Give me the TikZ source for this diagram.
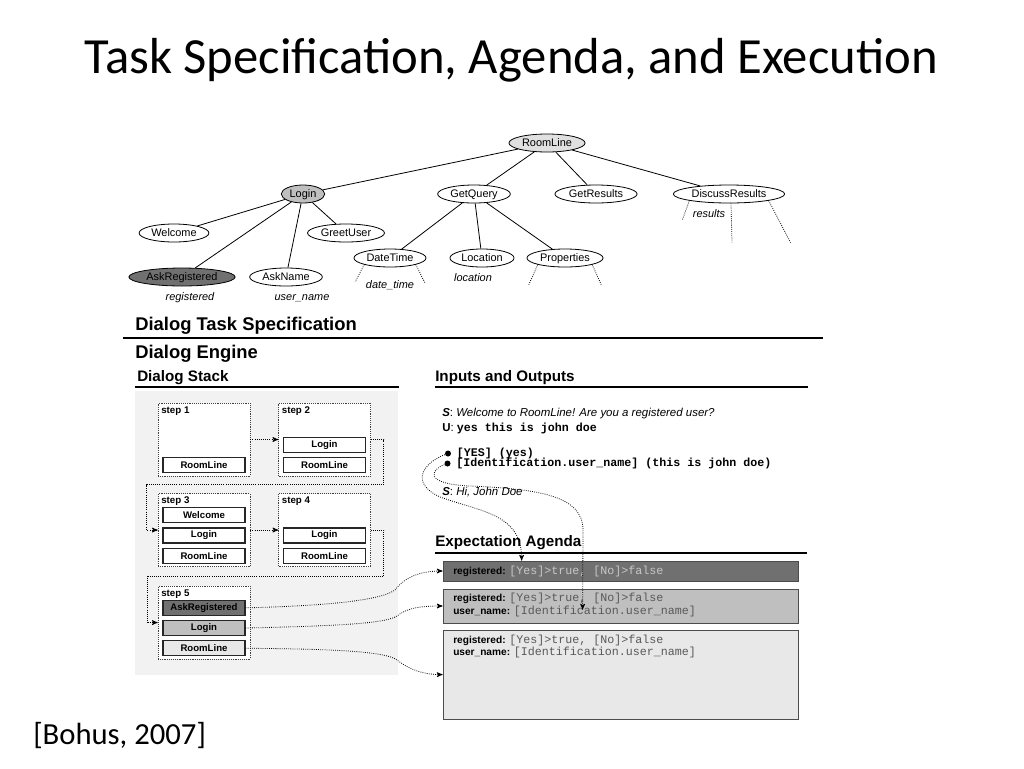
\documentclass[tikz,border=0pt]{standalone}
\usepackage{fontspec}
\setmainfont{Carlito}
\setsansfont{Liberation Sans}
\setmonofont{Liberation Mono}
\usetikzlibrary{shapes.geometric}
\usetikzlibrary{positioning}
\usetikzlibrary{arrows}
\definecolor{rootfill}{gray}{0.88}
\definecolor{midfill}{gray}{0.75}
\definecolor{darkfill}{gray}{0.44}
\definecolor{lightfill}{gray}{0.91}
\definecolor{stackbg}{gray}{0.95}
\newcommand{\slotval}[2][black!65]{{\ttfamily\mdseries\fontsize{8.75}{9.5}\selectfont\color{#1}#2}}
\newcommand{\iomono}[1]{{\ttfamily\bfseries\fontsize{8.75}{9.5}\selectfont #1}}
\tikzset{
    task/.style={
        ellipse, draw, semithick, fill=white,
        inner xsep=1.5pt, inner ysep=0pt, minimum height=13.5pt,
        text height=6.2pt, text depth=1.7pt,
        font=\sffamily\fontsize{8.2}{9}\selectfont},
    slot/.style={font=\sffamily\itshape\fontsize{8.2}{9}\selectfont},
    stub/.style={densely dotted, semithick},
    stepbox/.style={
        draw=black!75, densely dotted, fill=white,
        minimum width=69pt, minimum height=54.75pt, inner sep=0pt},
    steplabel/.style={anchor=north west, inner sep=2.5pt,
        font=\sffamily\bfseries\fontsize{7.3}{8}\selectfont},
    frame/.style={
        draw=black!85, line width=0.9pt, fill=white,
        minimum width=61.5pt, minimum height=11.25pt, inner sep=0pt,
        font=\sffamily\bfseries\fontsize{7.2}{8}\selectfont},
    heading/.style={anchor=base west, inner sep=0pt,
        font=\sffamily\bfseries\fontsize{13.8}{15}\selectfont},
    subheading/.style={anchor=base west, inner sep=0pt,
        font=\sffamily\bfseries\fontsize{11.4}{13}\selectfont},
    iotext/.style={anchor=west, inner sep=0pt,
        font=\sffamily\fontsize{8.6}{10}\selectfont},
    bullet/.style={circle, fill, inner sep=0pt, minimum size=4.5pt},
    bullettext/.style={iotext, text height=5pt, text depth=1pt},
    agbox/.style={draw=black!70, line width=0.6pt,
        minimum width=266.25pt, inner sep=0pt},
    agtext/.style={anchor=west, inner sep=0pt, align=left,
        font=\sffamily\bfseries\fontsize{7.6}{9.5}\selectfont},
    flow/.style={densely dotted, line width=0.6pt, ->, >=stealth'}}

\begin{document}
\begin{tikzpicture}[x=0.75pt,y=-0.75pt]
        \useasboundingbox (0,0) rectangle (1024,768);

        % title and citation
        \node[anchor=base, inner sep=0pt, font=\fontsize{38}{40}\selectfont] (title) at (511,73) {Task Specification, Agenda, and Execution};
        \node[anchor=base west, inner sep=0pt, font=\fontsize{23}{25}\selectfont] (cite) at (33,744) {[Bohus, 2007]};

        % task tree
        \node[task, fill=rootfill] (roomline) at (547,143) {RoomLine};
        \node[task, fill=midfill] (login) at (303,194) {Login};
        \node[task] (getquery) at (474,194) {GetQuery};
        \node[task] (getresults) at (596,194) {GetResults};
        \node[task] (discuss) at (729,194) {DiscussResults};
        \node[task] (welcome) at (174,233) {Welcome};
        \node[task] (greetuser) at (346,233) {GreetUser};
        \node[task, fill=darkfill] (askreg) at (182,277) {AskRegistered};
        \node[task] (askname) at (286,277) {AskName};
        \node[task] (datetime) at (390,258) {DateTime};
        \node[task] (location) at (482,258) {Location};
        \node[task] (properties) at (565,258) {Properties};

        \node[slot] (registered) at (190,298) {registered};
        \node[slot] (username) at (302,298) {user\_name};
        \node[slot] (datetimeslot) at (390,285) {date\_time};
        \node[slot] (locationslot) at (473,278) {location};
        \node[slot] (resultsslot) at (709,214) {results};

        \draw[semithick] (roomline) -- (login);
        \draw[semithick] (roomline) -- (getquery);
        \draw[semithick] (roomline) -- (getresults);
        \draw[semithick] (roomline) -- (discuss);
        \draw[semithick] (login) -- (welcome);
        \draw[semithick] (login) -- (askreg);
        \draw[semithick] (login) -- (askname);
        \draw[semithick] (login) -- (greetuser);
        \draw[semithick] (getquery) -- (datetime);
        \draw[semithick] (getquery) -- (location);
        \draw[semithick] (getquery) -- (properties);

        \draw[stub] (datetime.south west) -- ++(-9,17);
        \draw[stub] (datetime.south east) -- ++(9,18);
        \draw[stub] (properties.south west) -- ++(-9,20);
        \draw[stub] (properties.south east) -- ++(9,20);
        \draw[stub] (discuss.south west) -- ++(-7,19);
        \draw[stub] ([xshift=1.5pt]discuss.south) -- ++(1,39);
        \draw[stub] (discuss.south east) -- ++(22,42);

        % headings
        \node[heading] (taskspec) at (135,330) {Dialog Task Specification};
        \draw[line width=1.5pt] (123,338) -- (823,338);
        \node[heading] (engine) at (135,358) {Dialog Engine};
        \node[subheading] (stackhead) at (137,381) {Dialog Stack};
        \draw[line width=0.8pt] (135,387) -- (399,387);
        \node[subheading] (iohead) at (435,381) {Inputs and Outputs};
        \draw[line width=0.8pt] (435,387) -- (808,387);
        \node[subheading] (aghead) at (435,546) {Expectation Agenda};
        \draw[line width=0.8pt] (435,553) -- (807,553);

        % dialog stack
        \fill[stackbg] (135,391) rectangle (398,675);
        \node[stepbox] (s1) at (204,439.5) {};
        \node[stepbox, right=21pt of s1] (s2) {};
        \node[stepbox, below=12.75pt of s1] (s3) {};
        \node[stepbox, right=21pt of s3] (s4) {};
        \node[stepbox, below=14.25pt of s3] (s5) {};
        \node[steplabel] (s1label) at (s1.north west) {step 1};
        \node[steplabel] (s2label) at (s2.north west) {step 2};
        \node[steplabel] (s3label) at (s3.north west) {step 3};
        \node[steplabel] (s4label) at (s4.north west) {step 4};
        \node[steplabel] (s5label) at (s5.north west) {step 5};

        \node[frame, above=2.25pt of s1.south] (s1room) {RoomLine};
        \node[frame, above=2.25pt of s2.south] (s2room) {RoomLine};
        \node[frame, above=3pt of s2room] (s2login) {Login};
        \node[frame, above=2.25pt of s3.south] (s3room) {RoomLine};
        \node[frame, above=3pt of s3room] (s3login) {Login};
        \node[frame, above=3pt of s3login] (s3welcome) {Welcome};
        \node[frame, above=2.25pt of s4.south] (s4room) {RoomLine};
        \node[frame, above=3pt of s4room] (s4login) {Login};
        \node[frame, fill=lightfill, above=2.25pt of s5.south] (s5room) {RoomLine};
        \node[frame, fill=midfill, above=3pt of s5room] (s5login) {Login};
        \node[frame, fill=darkfill, above=3pt of s5login] (s5ask) {AskRegistered};

        \draw[flow] (s1.east) -- (s2.west);
        \draw[flow] (s2.east) -- ++(13,0) -- ++(0,45) -| ([xshift=-8.25pt]s3.west) -- (s3.west);
        \draw[flow] (s3.east) -- (s4.west);
        \draw[flow] (s4.east) -- ++(13,0) -- ++(0,46) -| ([xshift=-7.5pt]s5.west) -- (s5.west);

        % inputs and outputs
        \node[iotext] (io1) at (442,414) {\textbf{\textit{S}}: \textit{Welcome to RoomLine! Are you a registered user?}};
        \node[iotext] (io2) at (442,428) {\textbf{U}: \iomono{yes this is john doe}};
        \node[bullet] (ioyes) at (448,453.5) {};
        \node[bullettext, right=4pt of ioyes] (ioyestext) {\iomono{[YES] (yes)}};
        \node[bullet] (ioident) at (447.5,463.5) {};
        \node[bullettext, right=4pt of ioident] (ioidenttext) {\iomono{[Identification.user\_name] (this is john doe)}};
        \node[iotext] (io3) at (442,492) {\textbf{\textit{S}}: \textit{Hi, John Doe}};

        % expectation agenda
        \node[agbox, fill=darkfill, minimum height=15pt] (ag1) at (620.5,571) {};
        \node[agbox, fill=midfill, minimum height=25.5pt] (ag2) at (620.5,606) {};
        \node[agbox, fill=lightfill, minimum height=66.75pt] (ag3) at (620.5,674.5) {};
        \node[agtext] (ag1text) at (453,571) {registered: \slotval[black!22]{[Yes]>true, [No]>false}};
        \node[agtext] (ag2text) at (453,605) {registered: \slotval{[Yes]>true, [No]>false}\\user\_name: \slotval{[Identification.user\_name]}};
        \node[agtext] (ag3text) at (453,646.5) {registered: \slotval{[Yes]>true, [No]>false}\\user\_name: \slotval{[Identification.user\_name]}};

        \draw[flow] (ioyes) .. controls (425,462) and (408,482) .. (440,497) .. controls (482,512) and (522,514) .. ([xshift=59.25pt]ag1.north west);
        \draw[flow] (ioident) .. controls (430,470) and (424,484) .. (470,486) .. controls (540,489) and (583,496) .. (583,530) -- ([shift={(105pt,-15.75pt)}]ag2.north west);

        \draw[flow] (s5ask.east) .. controls (320,606) and (380,601) .. (395,590) .. controls (405,577) and (420,571) .. (ag1.west);
        \draw[flow] (s5login.east) .. controls (330,626) and (385,624) .. (397,616) .. controls (407,608) and (420,606) .. (ag2.west);
        \draw[flow] (s5room.east) .. controls (330,649) and (385,651) .. (397,660) .. controls (410,670) and (425,675) .. (ag3.west);
    \end{tikzpicture}
\end{document}
